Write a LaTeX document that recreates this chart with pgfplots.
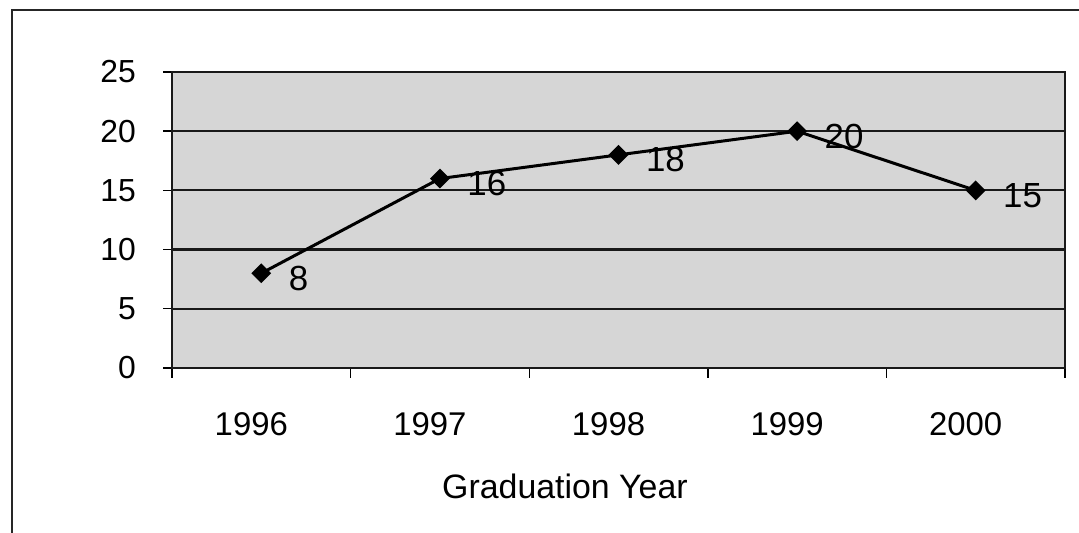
\documentclass[border=0pt]{standalone}
\usepackage{pgfplots}
\pgfplotsset{compat=1.18}
\usepackage{fontspec}
\setmainfont{Liberation Sans}
\begin{document}
\begin{tikzpicture}[x=1bp,y=1bp]
\useasboundingbox (0,0) rectangle (1079,533);
\draw[line width=1.8bp,black!85] (12,0) -- (12,523) -- (1079,523);
\begin{axis}[
  at={(172bp,165bp)}, anchor=south west,
  scale only axis, width=893bp, height=296bp,
  xmin=-0.5, xmax=4.5, ymin=0, ymax=25,
  xtick={0,1,2,3,4},
  xticklabels={1996,1997,1998,1999,2000},
  minor xtick={-0.5,0.5,1.5,2.5,3.5,4.5},
  ytick={0,5,10,15,20,25},
  tick align=outside,
  xtick pos=bottom, ytick pos=left,
  major x tick style={draw=none},
  minor x tick style={line width=1.4bp, black},
  minor tick length=10bp,
  major tick length=9bp,
  y tick style={line width=1.4bp, black},
  ymajorgrids,
  grid style={line width=2.2bp, black!90},
  axis line style={line width=2.2bp, black!90},
  axis background/.style={fill=black!16},
  /pgf/number format/assume math mode=true,
  yticklabel style={font=\fontsize{32}{38}\selectfont, inner sep=0pt, xshift=-27bp},
  xticklabel style={font=\fontsize{33}{40}\selectfont, inner sep=0pt, yshift=-35bp, xshift=-10bp},
  xlabel={Graduation Year},
  xlabel style={font=\fontsize{34}{40}\selectfont, at={(axis description cs:0.44,0)}, anchor=center, yshift=-118bp},
  clip=false,
]
\addplot[black, line width=3bp, mark=square*, mark size=5.5bp, mark options={rotate=45},
  nodes near coords, every node near coord/.style={anchor=west, inner sep=0pt, xshift=26bp, yshift=-5bp, font=\fontsize{35}{40}\selectfont, text=black}]
  coordinates {(0,8) (1,16) (2,18) (3,20) (4,15)};
\end{axis}
\end{tikzpicture}
\end{document}
